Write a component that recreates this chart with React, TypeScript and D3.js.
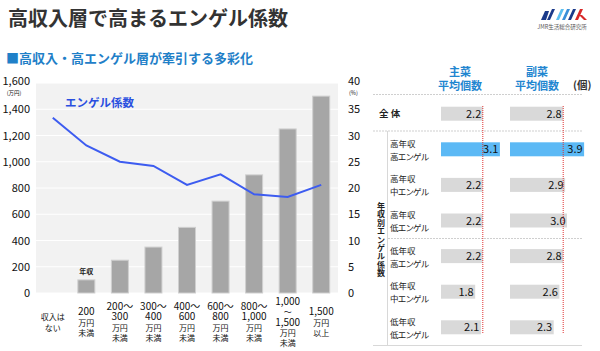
import * as d3 from 'd3'

const FONT = '"Noto Sans CJK JP", "Noto Sans", sans-serif'

// left chart
const categories = [
  ['収入は', 'ない'],
  ['200', '万円', '未満'],
  ['200～', '300', '万円', '未満'],
  ['300～', '400', '万円', '未満'],
  ['400～', '600', '万円', '未満'],
  ['600～', '800', '万円', '未満'],
  ['800～', '1,000', '万円', '未満'],
  ['1,000', '～', '1,500', '万円', '未満'],
  ['1,500', '万円', '以上'],
]
const incomeValues = [null, 100, 250, 350, 500, 700, 900, 1250, 1500]
const engelValues = [33.4, 28.1, 25.0, 24.2, 20.6, 22.6, 18.8, 18.3, 20.6]
const leftTicks = [0, 200, 400, 600, 800, 1000, 1200, 1400, 1600]
const rightTicks = [0, 5, 10, 15, 20, 25, 30, 35, 40]

// right table
const rowLabels = [
  ['全 体'],
  ['高年収', '高エンゲル'],
  ['高年収', '中エンゲル'],
  ['高年収', '低エンゲル'],
  ['低年収', '高エンゲル'],
  ['低年収', '中エンゲル'],
  ['低年収', '低エンゲル'],
]
const mainDish = [2.2, 3.1, 2.2, 2.2, 2.2, 1.8, 2.1]
const sideDish = [2.8, 3.9, 2.9, 3.0, 2.8, 2.6, 2.3]
const highlightRow = 1

const PLOT = {left: 36, right: 338, top: 83, bottom: 293}

export default function App() {
  const x = d3
    .scaleBand<number>()
    .domain(d3.range(categories.length))
    .range([PLOT.left, PLOT.right])
  const yL = d3.scaleLinear().domain([0, 1600]).range([PLOT.bottom, PLOT.top])
  const yR = d3.scaleLinear().domain([0, 40]).range([PLOT.bottom, PLOT.top])
  const barW = 17
  const cx = (i: number) => (x(i) as number) + x.bandwidth() / 2

  const line = d3
    .line<number>()
    .x((_, i) => cx(i))
    .y(d => yR(d))

  // table scales
  const rowY = d3.scalePoint<number>().domain(d3.range(rowLabels.length)).range([113.7, 327.3])
  const mainX = d3.scaleLinear().domain([0, 1]).range([441, 460])
  const sideX = d3.scaleLinear().domain([0, 1]).range([510, 529])
  const barH = 14

  return (
    <svg width={600} height={351} style={{position: 'absolute', left: 0, top: 0}} fontFamily={FONT}>
      <rect width={600} height={351} fill="#fff" />
      <text x={8} y={26} fontSize={20} fontWeight="bold" fill="#333">
        高収入層で高まるエンゲル係数
      </text>
      <text x={6} y={63} fontSize={13} fontWeight="bold" fill="#1f80c8">
        ■高収入・高エンゲル層が牽引する多彩化
      </text>

      {/* logo */}
      <g>
        <path d="M541,20 L545,11 L549,11 L546,20 Z" fill="#1a3a8a" />
        <path d="M547,20 L552,9 L555,9 L550,20 Z" fill="#1a3a8a" />
        <path d="M556,20 L561,9 L564,9 L559,20 Z" fill="#5bc0f0" />
        <path d="M562,20 L567,9 L570,9 L565,20 Z" fill="#3a8fd8" />
        <path d="M568,20 L573,9 L576,9 L571,20 Z" fill="#1a3a8a" />
        <path d="M575,20 L580,9 L583,9 L578,20 Z" fill="#d82828" />
        <path d="M579,15 L584,20 L587,20 L582,15 Z" fill="#d82828" />
        <text x={562} y={29} fontSize={5.5} textAnchor="middle" fill="#555">
          JMR生活総合研究所
        </text>
      </g>

      {/* left chart */}
      <rect x={PLOT.left} y={PLOT.top} width={PLOT.right - PLOT.left} height={PLOT.bottom - PLOT.top} fill="#f2f2f2" />
      {leftTicks.map(t => (
        <g key={t}>
          <line x1={PLOT.left} x2={PLOT.right} y1={yL(t)} y2={yL(t)} stroke="#fff" strokeWidth={1} />
          <text x={30} y={yL(t) + (t === 1600 ? 2 : 4)} fontSize={11} textAnchor="end" fill="#111">
            {d3.format(',')(t)}
          </text>
        </g>
      ))}
      <text x={14} y={94.5} fontSize={5.5} textAnchor="middle" fill="#111">(万円)</text>
      {rightTicks.map(t => (
        <text key={t} x={348} y={yR(t) + (t === 40 ? 2 : 4)} fontSize={11} fill="#111">
          {t}
        </text>
      ))}
      <text x={349} y={94.5} fontSize={5.5} fill="#111">(%)</text>

      {incomeValues.map((v, i) =>
        v == null ? null : (
          <rect
            key={i}
            x={cx(i) - barW / 2}
            y={yL(v)}
            width={barW}
            height={yL(0) - yL(v)}
            fill="#a6a6a6"
            stroke="#cfcfcf"
            strokeWidth={1}
          />
        ),
      )}
      <text x={cx(1)} y={274} fontSize={7} fontWeight="bold" textAnchor="middle" fill="#222">
        年収
      </text>
      <path d={line(engelValues) || ''} fill="none" stroke="#3d5cf0" strokeWidth={2} />
      <text x={65} y={107} fontSize={11.5} fontWeight="bold" fill="#2a4fe0">
        エンゲル係数
      </text>

      {categories.map((lines, i) => {
        const lh = 10.2
        const start = 322 - ((lines.length - 1) * lh) / 2 + 3.5
        return (
          <g key={i}>
            {lines.map((l, j) => (
              <text
                key={j}
                x={cx(i)}
                y={start + j * lh}
                fontSize={/[0-9]/.test(l) ? 10 : 8}
                textAnchor="middle"
                fill="#111">
                {l}
              </text>
            ))}
          </g>
        )
      })}

      {/* right table */}
      <text fontSize={11} fontWeight="bold" fill="#1f86d0" textAnchor="middle">
        <tspan x={460} y={76}>主菜</tspan>
        <tspan x={460} y={90}>平均個数</tspan>
      </text>
      <text fontSize={11} fontWeight="bold" fill="#1f86d0" textAnchor="middle">
        <tspan x={537} y={76}>副菜</tspan>
        <tspan x={537} y={90}>平均個数</tspan>
      </text>
      <text x={573} y={89} fontSize={10.5} fontWeight="bold" fill="#333">(個)</text>

      <line x1={373} x2={582} y1={94.5} y2={94.5} stroke="#cfcfcf" strokeDasharray="2,1" />
      <line x1={373} x2={582} y1={131} y2={131} stroke="#cfcfcf" strokeDasharray="2,1" />
      <line x1={388} x2={582} y1={238.5} y2={238.5} stroke="#cfcfcf" strokeDasharray="2,1" />
      <line x1={373} x2={582} y1={345.5} y2={345.5} stroke="#d8d8d8" />
      <line x1={387.5} x2={387.5} y1={131} y2={345.5} stroke="#d8d8d8" />

      <text fontSize={8} fontWeight="bold" fill="#222" textAnchor="middle">
        {'年収別エンゲル係数'.split('').map((c, i) => (
          <tspan key={i} x={381} y={209 + i * 8.4}>
            {c}
          </tspan>
        ))}
      </text>

      {rowLabels.map((lines, i) => {
        const y = rowY(i) as number
        if (i === 0)
          return (
            <text key={i} x={379} y={y + 3.5} fontSize={9.5} fontWeight="bold" fill="#222">
              {lines[0]}
            </text>
          )
        return (
          <text key={i} fontSize={8.5} fill="#222">
            <tspan x={390} y={y - 2.5}>{lines[0]}</tspan>
            <tspan x={390} y={y + 10.5} letterSpacing={-0.8}>{lines[1]}</tspan>
          </text>
        )
      })}

      {mainDish.map((v, i) => {
        const y = rowY(i) as number
        const fill = i === highlightRow ? '#5cb9f5' : '#d9d9d9'
        return (
          <g key={i}>
            <rect x={mainX(0)} y={y - barH / 2} width={mainX(v) - mainX(0)} height={barH} fill={fill} />
            <text x={mainX(v) - 1.5} y={y + 4} fontSize={11} textAnchor="end" fill="#111">
              {v.toFixed(1)}
            </text>
          </g>
        )
      })}
      {sideDish.map((v, i) => {
        const y = rowY(i) as number
        const fill = i === highlightRow ? '#5cb9f5' : '#d9d9d9'
        return (
          <g key={i}>
            <rect x={sideX(0)} y={y - barH / 2} width={sideX(v) - sideX(0)} height={barH} fill={fill} />
            <text x={sideX(v) - 1.5} y={y + 4} fontSize={11} textAnchor="end" fill="#111">
              {v.toFixed(1)}
            </text>
          </g>
        )
      })}
      <line x1={mainX(mainDish[0])} x2={mainX(mainDish[0])} y1={106} y2={334} stroke="#e03030" strokeWidth={1} strokeDasharray="1,1" />
      <line x1={sideX(sideDish[0])} x2={sideX(sideDish[0])} y1={106} y2={334} stroke="#e03030" strokeWidth={1} strokeDasharray="1,1" />
    </svg>
  )
}
